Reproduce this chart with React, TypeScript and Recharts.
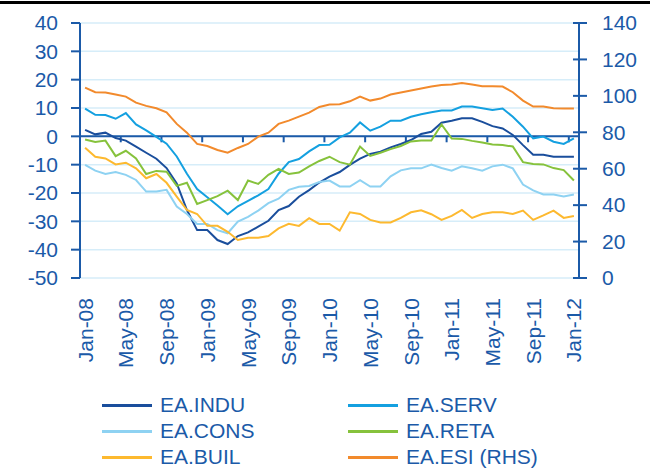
import React from "react";
import { LineChart, Line, XAxis, YAxis, CartesianGrid, ReferenceLine } from "recharts";

const months = [
  "Jan-08", "Feb-08", "Mar-08", "Apr-08", "May-08", "Jun-08", "Jul-08", "Aug-08", "Sep-08", "Oct-08", "Nov-08", "Dec-08",
  "Jan-09", "Feb-09", "Mar-09", "Apr-09", "May-09", "Jun-09", "Jul-09", "Aug-09", "Sep-09", "Oct-09", "Nov-09", "Dec-09",
  "Jan-10", "Feb-10", "Mar-10", "Apr-10", "May-10", "Jun-10", "Jul-10", "Aug-10", "Sep-10", "Oct-10", "Nov-10", "Dec-10",
  "Jan-11", "Feb-11", "Mar-11", "Apr-11", "May-11", "Jun-11", "Jul-11", "Aug-11", "Sep-11", "Oct-11", "Nov-11", "Dec-11",
  "Jan-12",
];

const induValues = [
  2.3, 0.7, 1.3, -0.6, -1.5, -3.6, -5.8, -7.9, -11.2, -16.6,
  -26.0, -33.1, -33.1, -36.6, -38.0, -35.2, -33.9, -31.9, -29.8, -26.0,
  -24.6, -21.3, -19.0, -16.3, -14.2, -12.6, -10.1, -7.9, -6.2, -5.4,
  -3.9, -2.7, -1.3, 0.8, 1.6, 4.8, 5.5, 6.4, 6.4, 5.1,
  3.6, 2.8, 0.5, -3.1, -6.5, -6.5, -7.2, -7.2, -7.2,
];

const servValues = [
  9.8, 7.6, 7.5, 6.2, 8.2, 4.2, 2.1, -0.2, -2.6, -7.1,
  -13.2, -18.6, -21.5, -24.4, -27.5, -24.7, -22.8, -20.8, -18.6, -13.2,
  -9.1, -8.0, -5.3, -3.1, -3.0, -0.4, 1.3, 4.9, 2.0, 3.4,
  5.5, 5.5, 6.9, 7.8, 8.5, 9.1, 9.1, 10.5, 10.5, 9.9,
  9.3, 9.8, 6.9, 3.4, -0.7, -0.1, -1.9, -2.7, -0.7,
];

const consValues = [
  -10.1, -12.1, -13.3, -12.6, -13.6, -15.4, -19.5, -19.5, -18.9, -24.8,
  -27.4, -30.9, -30.9, -33.1, -34.2, -30.1, -28.4, -26.2, -23.6, -22.0,
  -18.9, -17.8, -17.5, -16.1, -15.6, -17.7, -17.7, -15.5, -17.7, -17.7,
  -14.1, -12.0, -11.3, -11.3, -10.0, -11.2, -12.1, -10.6, -11.3, -12.1,
  -10.6, -10.0, -11.3, -17.0, -19.1, -20.5, -20.5, -21.2, -20.5,
];

const retaValues = [
  -1.1, -2.0, -1.5, -7.0, -5.1, -7.8, -13.3, -12.2, -12.5, -17.5,
  -16.4, -23.9, -22.5, -21.1, -19.2, -22.5, -15.6, -16.8, -13.6, -11.5,
  -13.3, -12.8, -10.6, -8.7, -7.2, -9.1, -10.0, -3.6, -6.9, -5.8,
  -4.5, -3.4, -1.8, -1.5, -1.5, 4.2, -0.8, -0.9, -1.6, -2.2,
  -2.9, -3.1, -3.6, -9.1, -9.8, -9.9, -11.2, -11.9, -15.6,
];

const builValues = [
  -4.0, -7.2, -7.8, -9.9, -9.3, -11.3, -14.8, -13.3, -16.4, -21.3,
  -26.0, -27.4, -31.6, -31.6, -33.7, -36.6, -35.8, -35.8, -35.2, -32.5,
  -30.9, -31.6, -28.9, -30.9, -30.9, -33.3, -26.8, -27.4, -29.5, -30.4,
  -30.4, -28.8, -26.8, -26.1, -27.5, -29.5, -28.1, -26.0, -28.8, -27.4,
  -26.8, -26.8, -27.4, -26.2, -29.5, -27.9, -26.2, -28.8, -28.1,
];

const esiValues = [
  104.5, 102.0, 101.8, 100.7, 99.6, 96.3, 94.5, 93.2, 91.0, 84.6,
  79.8, 73.6, 72.5, 70.3, 68.8, 71.4, 73.6, 77.6, 79.8, 84.6,
  86.4, 88.6, 90.8, 93.9, 95.3, 95.4, 97.0, 99.6, 97.4, 98.5,
  100.7, 101.8, 102.9, 104.0, 105.1, 106.0, 106.2, 107.1, 106.2, 105.3,
  105.3, 105.1, 102.0, 97.4, 94.1, 94.1, 93.2, 93.0, 93.0,
];

const seriesKeys = ["indu", "serv", "cons", "reta", "buil", "esi"];
const seriesNames = ["EA.INDU", "EA.SERV", "EA.CONS", "EA.RETA", "EA.BUIL", "EA.ESI (RHS)"];
const seriesColors = ["#1A4E9C", "#14A0E0", "#8ED2F2", "#86C23C", "#FDB92F", "#F28A2C"];
const seriesAxes = ["left", "left", "left", "left", "left", "right"];
const seriesValues = [induValues, servValues, consValues, retaValues, builValues, esiValues];

const leftTicks = [-50, -40, -30, -20, -10, 0, 10, 20, 30, 40];
const rightTicks = [0, 20, 40, 60, 80, 100, 120, 140];
const labelTickIndexes = [0, 4, 8, 12, 16, 20, 24, 28, 32, 36, 40, 44, 48];
const zeroLineTickIndexes = [3.5, 7.5, 11.5, 15.5, 19.5, 23.5, 27.5, 31.5, 35.5, 39.5, 43.5, 47.5];

const AXIS = "#1B5AA8";
const GRID = "#D6EDF9";
const FONT = '"Liberation Sans", Arial, sans-serif';

const data = months.map((m, i) => {
  const row: Record<string, any> = { i, month: m };
  seriesKeys.forEach((k, s) => {
    row[k] = seriesValues[s][i];
  });
  return row;
});

const XTick = (props: any) => {
  const { x, y, payload } = props;
  return (
    <text
      x={x}
      y={y}
      transform={`rotate(-90 ${x} ${y})`}
      textAnchor="end"
      dy="0.36em"
      fill={AXIS}
      fontSize={21}
      fontFamily={FONT}
    >
      {months[payload.value]}
    </text>
  );
};

const RightTick = (props: any) => {
  const { x, y, payload } = props;
  return (
    <g>
      <line x1={x - 6} x2={x + 8} y1={y} y2={y} stroke={AXIS} strokeWidth={2} />
      <text x={x + 23} y={y} dy="0.35em" textAnchor="start" fill={AXIS} fontSize={21} fontFamily={FONT}>
        {payload.value}
      </text>
    </g>
  );
};

export default function App() {
  return (
    <div style={{ position: "absolute", left: 0, top: 0, width: 656, height: 468, background: "#fff", fontFamily: FONT, overflow: "hidden" }}>
      <div style={{ position: "absolute", left: 0, top: 1, width: 650, height: 3, background: "#000" }} />
      <LineChart width={656} height={468} data={data} margin={{ top: 23, right: 0, bottom: 0, left: 0 }}>
        <CartesianGrid yAxisId="left" vertical={false} stroke={GRID} strokeWidth={1.5} />
        <XAxis
          dataKey="i"
          type="number"
          domain={[-0.5, 48.5]}
          ticks={labelTickIndexes}
          interval={0}
          axisLine={false}
          tickLine={false}
          tickSize={0}
          tickMargin={20}
          height={190}
          tick={<XTick />}
        />
        <YAxis
          yAxisId="left"
          orientation="left"
          width={80}
          domain={[-50, 40]}
          ticks={leftTicks}
          interval={0}
          axisLine={{ stroke: AXIS, strokeWidth: 2 }}
          tickLine={{ stroke: AXIS, strokeWidth: 2 }}
          tickSize={9}
          tickMargin={13}
          tick={{ fill: AXIS, fontSize: 21, fontFamily: FONT }}
        />
        <YAxis
          yAxisId="right"
          orientation="right"
          width={77}
          domain={[0, 140]}
          ticks={rightTicks}
          interval={0}
          axisLine={{ stroke: AXIS, strokeWidth: 2 }}
          tickLine={false}
          tickSize={0}
          tickMargin={0}
          tick={<RightTick />}
        />
        <ReferenceLine yAxisId="left" y={0} stroke={AXIS} strokeWidth={2} />
        {zeroLineTickIndexes.map((p) => (
          <ReferenceLine
            key={p}
            yAxisId="left"
            segment={[{ x: p, y: 0 }, { x: p, y: -2.1 }]}
            stroke={AXIS}
            strokeWidth={2}
          />
        ))}
        {seriesKeys.map((k, s) => (
          <Line
            key={k}
            yAxisId={seriesAxes[s]}
            dataKey={k}
            name={seriesNames[s]}
            stroke={seriesColors[s]}
            strokeWidth={2}
            dot={false}
            activeDot={false}
            isAnimationActive={false}
          />
        ))}
      </LineChart>
      <div
        style={{
          position: "absolute",
          left: 102,
          top: 392,
          display: "grid",
          gridTemplateColumns: "246px 240px",
          gridAutoRows: "26px",
          color: AXIS,
          fontSize: 21,
          lineHeight: "22px",
          fontFamily: FONT,
        }}
      >
        {seriesNames.map((n, s) => (
          <div key={n} style={{ display: "flex", alignItems: "center", whiteSpace: "nowrap" }}>
            <span style={{ display: "inline-block", width: 50, height: 3, background: seriesColors[s], marginRight: 8 }} />
            <span>{n}</span>
          </div>
        ))}
      </div>
    </div>
  );
}
